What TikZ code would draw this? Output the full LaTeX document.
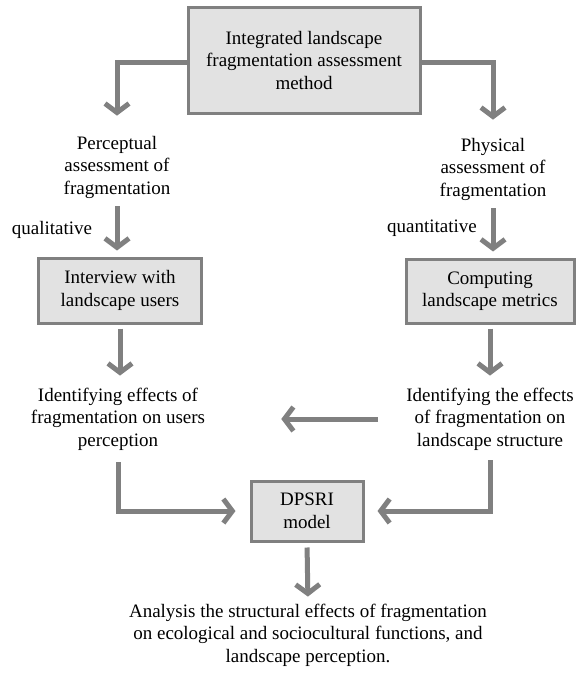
\documentclass[tikz,border=0pt]{standalone}
\usepackage{fontspec}
\setmainfont{Liberation Serif}
\usetikzlibrary{positioning}
\usetikzlibrary{arrows.meta}

\definecolor{boxfill}{HTML}{E2E2E2}
\definecolor{linegray}{HTML}{808080}

\tikzset{
  graybox/.style={rectangle, draw=linegray, line width=3pt, fill=boxfill, align=center, inner sep=0pt},
  plain/.style={align=center, inner sep=0pt},
  flow/.style={draw=linegray, line width=5pt, -{Straight Barb[length=9pt,width=24pt]}}
}

\begin{document}
\begin{tikzpicture}[x=1pt, y=-1pt, font=\fontsize{19}{22.5}\selectfont]

\useasboundingbox (0,0) rectangle (579,685);

\node[graybox, minimum width=232pt, minimum height=105pt] (top) at (304,60.5) {Integrated landscape\\fragmentation assessment\\method};

% Perceptual side

\node[plain] (perc) at (117,167) {Perceptual\\assessment of\\fragmentation};

\node[plain] (qual) at (52,230) {qualitative};

\node[graybox, minimum width=163pt, minimum height=65pt] (interv) at (120,290.5) {Interview with\\landscape users};

\node[plain] (effu) at (118,419) {Identifying effects of\\fragmentation on users\\perception};

% Physical side

\node[plain] (phys) at (493,169) {Physical\\assessment of\\fragmentation};

\node[plain] (quant) at (432,228) {quantitative};

\node[graybox, minimum width=168pt, minimum height=64pt] (comput) at (490,291) {Computing\\landscape metrics};

\node[plain] (effl) at (490,419) {Identifying the effects\\of fragmentation on\\landscape structure};

% Model and result

\node[graybox, minimum width=112pt, minimum height=60pt] (dpsri) at (307,511) {DPSRI\\model};

\node[plain] (anal) at (308,635) {Analysis the structural effects of fragmentation\\on ecological and sociocultural functions, and\\landscape perception.};

% arrows

\draw[flow, shorten >=20pt] ([yshift=-2.5pt]top.west) -| (perc.north);
\draw[flow, shorten >=18pt] ([yshift=-2.5pt]top.east) -| (phys.north);

\draw[flow, shorten <=8pt, shorten >=6pt] (perc.south) -- (perc.south |- interv.north);
\draw[flow, shorten <=8pt, shorten >=6pt] (phys.south) -- (phys.south |- comput.north);

\draw[flow, shorten <=4pt, shorten >=12pt] (interv.south) -- (interv.south |- effu.north);
\draw[flow, shorten <=4pt, shorten >=12pt] (comput.south) -- (comput.south |- effl.north);

\draw[flow, shorten <=28pt, shorten >=76pt] (effl.west) -- (effl.west -| effu.east);

\draw[flow, shorten <=12pt, shorten >=14pt] (effu.south) |- (dpsri.west);
\draw[flow, shorten <=10pt, shorten >=13pt] (effl.south) |- (dpsri.east);

\draw[flow, shorten <=5pt, shorten >=7pt] (dpsri.south) -- (anal.north);

\end{tikzpicture}
\end{document}
